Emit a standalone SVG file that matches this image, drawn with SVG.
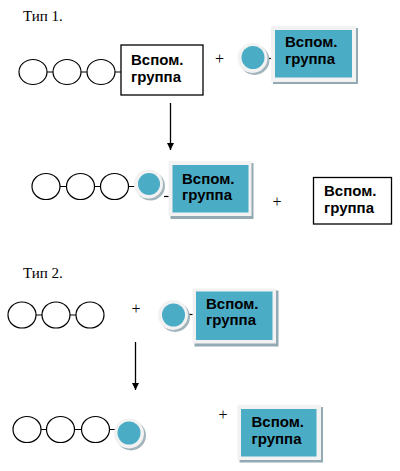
<svg xmlns="http://www.w3.org/2000/svg" width="400" height="471" viewBox="0 0 400 471">
<defs>
<style>
.title{font-family:"Liberation Serif","Times New Roman",serif;font-size:15px;fill:#000}
.plus{font-family:"Liberation Serif","Times New Roman",serif;font-size:16px;fill:#000}
.lbl{font-family:"Liberation Sans",Arial,sans-serif;font-size:15px;font-weight:bold;fill:#000}
.ring{fill:#fff;stroke:#000;stroke-width:1.2}
.bond{stroke:#000;stroke-width:1.2}
.wbox{fill:#fff;stroke:#000;stroke-width:1.3}
.shadow{fill:#93A9B3}
.frame{fill:#F2F2F2}
.blue{fill:#4BACC6}
.cshadow{fill:#A3B5BC}
.arrow{stroke:#000;stroke-width:1.3;fill:none}
</style>
<marker id="ah" viewBox="0 0 10 10" refX="10" refY="5" markerWidth="7" markerHeight="7" orient="auto" markerUnits="userSpaceOnUse">
<path d="M0,0 L10,5 L0,10 z" fill="#000"/>
</marker>
</defs>
<rect width="400" height="471" fill="#fff"/>

<text class="title" x="23" y="20.5">Тип 1.</text>
<text class="title" x="23" y="277.5">Тип 2.</text>

<!-- Row 1 -->
<g id="chain1">
<line class="bond" x1="47" y1="72" x2="121" y2="72"/>
<ellipse class="ring" cx="33" cy="72" rx="14" ry="12.5"/>
<ellipse class="ring" cx="67" cy="72" rx="14" ry="12.5"/>
<ellipse class="ring" cx="101" cy="72" rx="14" ry="12.5"/>
<rect class="wbox" x="121" y="45" width="82" height="50"/>
<text class="lbl" x="131" y="65">Вспом.</text>
<text class="lbl" x="131" y="82">группа</text>
</g>
<text class="plus" x="215" y="64">+</text>
<g id="reagent1">
<line class="bond" x1="266" y1="58.5" x2="272" y2="58.5"/>
<circle class="cshadow" cx="254.5" cy="60" r="15"/>
<circle class="frame" cx="252.5" cy="58" r="15"/>
<circle class="blue" cx="253" cy="57.5" r="11.5"/>
<rect class="shadow" x="273" y="28" width="85" height="56"/>
<rect class="frame" x="271" y="26" width="85" height="56"/>
<rect class="blue" x="275" y="30" width="77" height="47.5"/>
<text class="lbl" x="285" y="47">Вспом.</text>
<text class="lbl" x="285" y="63.5">группа</text>
</g>

<!-- Row 2 -->
<g id="product1">
<line class="bond" x1="60" y1="186.5" x2="135" y2="186.5"/>
<ellipse class="ring" cx="46" cy="186.5" rx="14" ry="13"/>
<ellipse class="ring" cx="80.5" cy="186.5" rx="14" ry="13"/>
<ellipse class="ring" cx="114.5" cy="186.5" rx="14" ry="13"/>
<line class="bond" x1="164" y1="196.5" x2="169" y2="196.5"/>
<circle class="cshadow" cx="150.5" cy="186" r="14.5"/>
<circle class="frame" cx="148.5" cy="184" r="14.5"/>
<circle class="blue" cx="149" cy="184" r="11"/>
<rect class="shadow" x="170.5" y="163" width="83" height="56"/>
<rect class="frame" x="168.5" y="161" width="83" height="55"/>
<rect class="blue" x="172.5" y="165" width="76" height="47.5"/>
<text class="lbl" x="182" y="183.5">Вспом.</text>
<text class="lbl" x="182" y="199.5">группа</text>
</g>
<text class="plus" x="272.5" y="206.5">+</text>
<g id="byproduct1">
<rect class="wbox" x="313.5" y="177.5" width="78" height="46.5"/>
<text class="lbl" x="324" y="196">Вспом.</text>
<text class="lbl" x="324" y="212.5">группа</text>
</g>

<!-- Row 3 -->
<g id="chain2">
<line class="bond" x1="36" y1="315" x2="76" y2="315"/>
<ellipse class="ring" cx="22" cy="315" rx="14" ry="13"/>
<ellipse class="ring" cx="56" cy="315" rx="14" ry="13"/>
<ellipse class="ring" cx="90" cy="315" rx="14" ry="13"/>
</g>
<text class="plus" x="131.5" y="313.5">+</text>
<g id="reagent2">
<line class="bond" x1="187" y1="314.5" x2="194" y2="314.5"/>
<circle class="cshadow" cx="175" cy="317" r="15"/>
<circle class="frame" cx="173" cy="315" r="15"/>
<circle class="blue" cx="173.5" cy="315" r="11.5"/>
<rect class="shadow" x="194.5" y="290.5" width="84" height="56"/>
<rect class="frame" x="192.5" y="288.5" width="83.5" height="55"/>
<rect class="blue" x="196" y="291.5" width="76.5" height="48.5"/>
<text class="lbl" x="206" y="308.5">Вспом.</text>
<text class="lbl" x="206" y="325">группа</text>
</g>

<!-- Row 4 -->
<g id="product2">
<line class="bond" x1="41" y1="429.5" x2="116" y2="429.5"/>
<ellipse class="ring" cx="27" cy="429.5" rx="14" ry="13"/>
<ellipse class="ring" cx="60.5" cy="429.5" rx="14" ry="13"/>
<ellipse class="ring" cx="95.5" cy="429.5" rx="14" ry="13"/>
<circle class="cshadow" cx="131" cy="435.5" r="15"/>
<circle class="frame" cx="129" cy="433.5" r="15"/>
<circle class="blue" cx="129" cy="433" r="11.5"/>
</g>
<text class="plus" x="218.5" y="419.5">+</text>
<g id="byproduct2">
<rect class="shadow" x="239.5" y="407" width="83.5" height="55.5"/>
<rect class="frame" x="237.5" y="405" width="83.5" height="55"/>
<rect class="blue" x="241" y="409" width="75.5" height="47.5"/>
<text class="lbl" x="251.5" y="427">Вспом.</text>
<text class="lbl" x="251.5" y="443.5">группа</text>
</g>

<g id="connectors">
<line class="arrow" x1="170.5" y1="103" x2="170.5" y2="150" marker-end="url(#ah)"/>
<line class="arrow" x1="135.5" y1="342" x2="135.5" y2="390" marker-end="url(#ah)"/>
</g>
</svg>
